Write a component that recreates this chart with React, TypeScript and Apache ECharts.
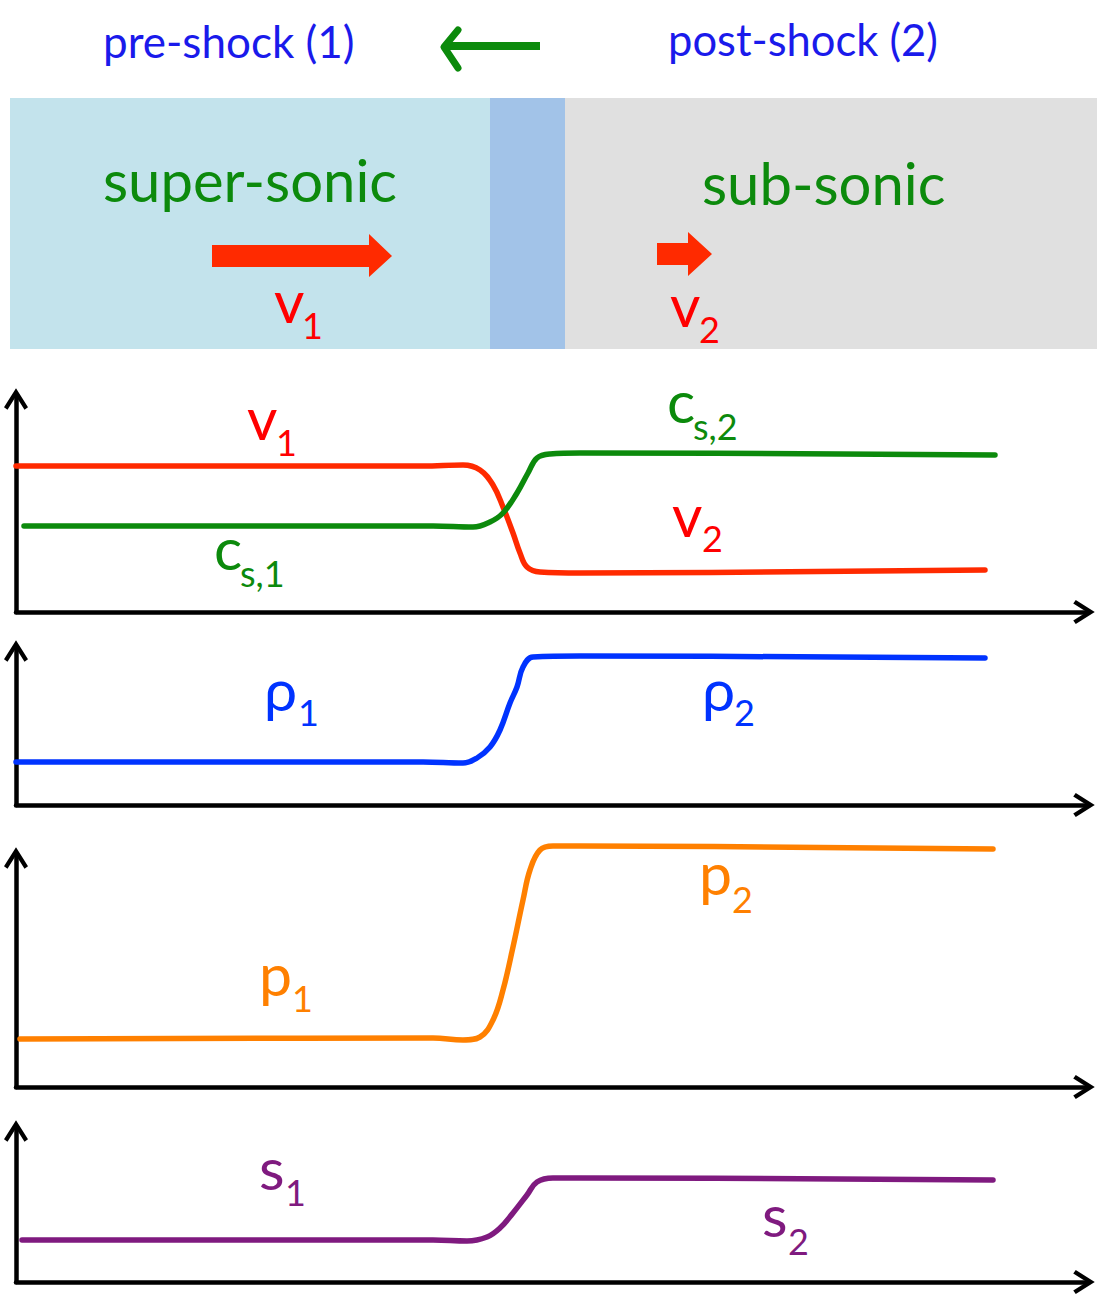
import React, { useEffect, useRef } from "react";
import * as echarts from "echarts";

// ---- data (arbitrary units: position along flow, quantity value) ----
const vX = [0, 40.7, 44.7, 46.4, 47.7, 48.7, 49.7, 50.4, 51.1, 52.4, 56.4, 96.9];
const vY = [14.6, 14.6, 14.7, 14.2, 12.7, 10.5, 7.9, 5.9, 4.5, 4.0, 3.9, 4.2];
const csX = [0.8, 41.7, 45.7, 47.4, 48.7, 50.1, 51.2, 52.1, 53.4, 56.4, 97.9];
const csY = [8.6, 8.6, 8.5, 9.0, 9.9, 11.9, 13.9, 15.4, 15.8, 15.9, 15.7];
const rhoX = [0, 40.7, 44.7, 46.1, 47.4, 48.4, 49.4, 50.1, 50.7, 51.7, 56.4, 96.9];
const rhoY = [4.3, 4.3, 4.2, 4.7, 5.8, 7.5, 10.2, 11.8, 13.8, 14.8, 14.9, 14.7];
const pX = [0.4, 41.7, 44.7, 46.4, 47.7, 48.7, 49.7, 50.7, 51.4, 52.4, 53.7, 56.4, 97.7];
const pY = [4.8, 4.9, 4.7, 5.0, 6.7, 9.7, 14.0, 18.7, 21.7, 23.7, 24.1, 24.1, 23.8];
const sX = [0.6, 41.7, 45.1, 47.1, 48.4, 49.7, 51.1, 52.1, 53.7, 56.4, 97.7];
const sY = [4.2, 4.2, 4.1, 4.5, 5.4, 6.9, 8.7, 10.0, 10.4, 10.4, 10.2];

const xMax = 107;
const yMaxes = [21.5, 15.6, 23.1, 15.3];

const FONT = 'Lato, "Open Sans", "DejaVu Sans", sans-serif';
const K = 0.387; // central-baseline offset factor

const RED = "#FF2A00";
const GREEN = "#0C8A0C";
const BLUE = "#0033FF";
const ORANGE = "#FF8000";
const PURPLE = "#7F1A7F";
const TXT_BLUE = "#1A1AEB";

function zip(xs: number[], ys: number[]) {
  return xs.map((x, i) => [x, ys[i]]);
}

function txt(text: string, x: number, baseline: number, fs: number, color: string) {
  return {
    type: "text",
    z: 100,
    style: {
      text,
      x,
      y: baseline - K * fs,
      fill: color,
      font: `${fs}px ${FONT}`,
      align: "left",
      verticalAlign: "middle",
      textAlign: "left",
      textVerticalAlign: "middle",
    },
  };
}

function lbl(main: string, sub: string, x: number, base: number, sx: number, sbase: number, color: string) {
  return [txt(main, x, base, 59, color), txt(sub, sx, sbase, 36, color)];
}

const ARROW = "path://M12 0 L24 19 L20.5 21.5 L12 8 L3.5 21.5 L0 19 Z";

export default function App() {
  const ref = useRef<HTMLDivElement>(null);
  useEffect(() => {
    document.body.style.margin = "0";
    const chart = echarts.init(ref.current!, undefined, { renderer: "svg" });
    const grids = [
      { left: 16, top: 397, width: 1070, height: 215 },
      { left: 16, top: 649, width: 1070, height: 156 },
      { left: 16, top: 856, width: 1070, height: 231 },
      { left: 16, top: 1129, width: 1070, height: 153 },
    ];
    const axisLine = {
      show: true,
      symbol: ["none", ARROW],
      symbolSize: [24, 22],
      symbolOffset: [0, -2],
      lineStyle: { color: "#000", width: 4.5 },
    };
    const xAxis = grids.map((_, i) => ({
      type: "value",
      gridIndex: i,
      min: 0,
      max: xMax,
      axisLine,
      axisTick: { show: false },
      axisLabel: { show: false },
      splitLine: { show: false },
    }));
    const yAxis = grids.map((_, i) => ({
      type: "value",
      gridIndex: i,
      min: 0,
      max: yMaxes[i],
      axisLine,
      axisTick: { show: false },
      axisLabel: { show: false },
      splitLine: { show: false },
    }));
    const mk = (idx: number, data: number[][], color: string) => ({
      type: "line",
      xAxisIndex: idx,
      yAxisIndex: idx,
      data,
      showSymbol: false,
      smooth: 0.4,
      clip: false,
      lineStyle: { color, width: 5.5, cap: "round", join: "round" },
    });
    const graphic: any[] = [
      { type: "rect", z: 1, shape: { x: 10, y: 98, width: 480, height: 251 }, style: { fill: "#C3E3EC" } },
      { type: "rect", z: 1, shape: { x: 490, y: 98, width: 75, height: 251 }, style: { fill: "#A2C3E8" } },
      { type: "rect", z: 1, shape: { x: 565, y: 98, width: 532, height: 251 }, style: { fill: "#E0E0E0" } },
      txt("pre-shock (1)", 103, 58, 44, TXT_BLUE),
      txt("post-shock (2)", 668, 56, 43.5, TXT_BLUE),
      {
        type: "polyline",
        z: 10,
        shape: { points: [[540, 46], [447, 46]] },
        style: { stroke: GREEN, lineWidth: 8, fill: null },
      },
      {
        type: "polyline",
        z: 10,
        shape: { points: [[458, 30], [444, 47], [458, 68]] },
        style: { stroke: GREEN, lineWidth: 7, fill: null, lineCap: "round", lineJoin: "round" },
      },
      txt("super-sonic", 103, 202, 58, GREEN),
      txt("sub-sonic", 702, 205, 58, GREEN),
      {
        type: "polygon",
        z: 10,
        shape: { points: [[212, 245], [369, 245], [369, 234], [392, 256], [369, 277], [369, 267], [212, 267]] },
        style: { fill: RED },
      },
      {
        type: "polygon",
        z: 10,
        shape: { points: [[657, 243], [688, 243], [688, 232], [712, 254], [688, 276], [688, 265], [657, 265]] },
        style: { fill: RED },
      },
      ...lbl("v", "1", 274, 323, 302, 339, "#FF0000"),
      ...lbl("v", "2", 670, 327, 699, 343, "#FF0000"),
      // panel labels
      ...lbl("v", "1", 247, 440, 276, 456, "#FF0000"),
      ...lbl("c", "s,1", 214, 570, 240, 587, GREEN),
      ...lbl("c", "s,2", 667, 423, 693, 440, GREEN),
      ...lbl("v", "2", 672, 537, 702, 552, "#FF0000"),
      ...lbl("ρ", "1", 264, 711, 298, 726, BLUE),
      ...lbl("ρ", "2", 702, 711, 734, 726, BLUE),
      ...lbl("p", "1", 259, 996, 292, 1012, ORANGE),
      ...lbl("p", "2", 699, 895, 732, 913, ORANGE),
      ...lbl("s", "1", 259, 1190, 285, 1206, PURPLE),
      ...lbl("s", "2", 762, 1237, 788, 1255, PURPLE),
    ];
    chart.setOption({
      animation: false,
      backgroundColor: "#fff",
      grid: grids,
      xAxis,
      yAxis,
      series: [
        mk(0, zip(vX, vY), RED),
        mk(0, zip(csX, csY), GREEN),
        mk(1, zip(rhoX, rhoY), BLUE),
        mk(2, zip(pX, pY), ORANGE),
        mk(3, zip(sX, sY), PURPLE),
      ],
      graphic,
    });
    return () => chart.dispose();
  }, []);
  return <div ref={ref} style={{ width: 1097, height: 1299 }} />;
}
